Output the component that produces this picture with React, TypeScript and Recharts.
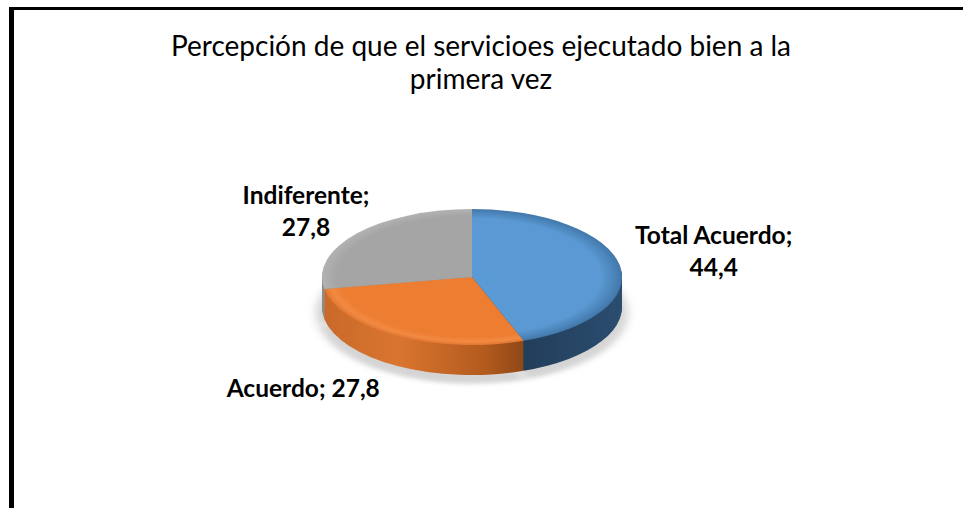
import React from "react";
import { PieChart, Pie, Cell } from "recharts";

const categories = ["Total Acuerdo", "Acuerdo", "Indiferente"];
const values = [44.4, 27.8, 27.8];
const title = ["Percepción de que el servicioes ejecutado bien a la", "primera vez"];

const data = categories.map((name, i) => ({ name, value: values[i] }));

const topFills = ["url(#topBlue)", "url(#topOrange)", "url(#topGray)"];
const sideFills = ["url(#sideBlue)", "url(#sideOrange)", "#8c8c8c"];

// pie geometry (pixels on the page)
const CX = 472;
const CY = 277;
const RX = 150;
const RY = 68;
const DEPTH = 30;
const S = RY / RX;

// label placement relative to the rim point at each slice's mid angle
const labelStyle: Record<string, { dx: number; dy: number; wrap: boolean }> = {
  "Total Acuerdo": { dx: 94, dy: -15, wrap: true },
  Acuerdo: { dx: -94, dy: 52, wrap: false },
  Indiferente: { dx: -51, dy: -23, wrap: true },
};

const fmt = (v: number) => v.toFixed(1).replace(".", ",");

const sideOffsets: number[] = [];
for (let d = DEPTH; d >= 1; d -= 1) sideOffsets.push(d);

const font = "Lato, 'Open Sans', sans-serif";

const renderLabel = (props: any) => {
  const { midAngle, name, value } = props;
  const rad = (Math.PI / 180) * midAngle;
  const ex = CX + RX * Math.cos(rad);
  const ey = CY - RY * Math.sin(rad);
  const st = labelStyle[name];
  const x = ex + st.dx;
  const y = ey + st.dy;
  const common = {
    x,
    textAnchor: "middle" as const,
    fontFamily: font,
    fontWeight: 700,
    fontSize: 24.5,
    fill: "#000",
  };
  if (st.wrap) {
    return (
      <g key={name}>
        <text {...common} y={y - 16} dominantBaseline="central">
          {name};
        </text>
        <text {...common} y={y + 16} dominantBaseline="central">
          {fmt(value)}
        </text>
      </g>
    );
  }
  return (
    <text key={name} {...common} y={y} dominantBaseline="central">
      {name}; {fmt(value)}
    </text>
  );
};

export default function App() {
  const scaledH = 508 / S;
  return (
    <div
      style={{
        position: "absolute",
        left: 0,
        top: 0,
        width: 963,
        height: 508,
        background: "#fff",
        overflow: "hidden",
      }}
    >
      <svg width={0} height={0} style={{ position: "absolute" }}>
        <defs>
          <linearGradient id="sideOrange" gradientUnits="userSpaceOnUse" x1={322} y1={0} x2={540} y2={0}>
            <stop offset="0%" stopColor="#c9692a" />
            <stop offset="35%" stopColor="#d9752f" />
            <stop offset="75%" stopColor="#b35a1e" />
            <stop offset="100%" stopColor="#7f4014" />
          </linearGradient>
          <linearGradient id="sideBlue" gradientUnits="userSpaceOnUse" x1={530} y1={0} x2={623} y2={0}>
            <stop offset="0%" stopColor="#233f5c" />
            <stop offset="100%" stopColor="#2b4d70" />
          </linearGradient>
          <radialGradient id="topBlue" gradientUnits="userSpaceOnUse" cx={CX} cy={CY / S} r={RX}>
            <stop offset="0%" stopColor="#5b9bd5" />
            <stop offset="86%" stopColor="#5a99d3" />
            <stop offset="100%" stopColor="#4278aa" />
          </radialGradient>
          <radialGradient id="topOrange" gradientUnits="userSpaceOnUse" cx={CX} cy={CY / S} r={RX}>
            <stop offset="0%" stopColor="#ed7d31" />
            <stop offset="88%" stopColor="#ed7d31" />
            <stop offset="95%" stopColor="#f28a42" />
            <stop offset="100%" stopColor="#e27632" />
          </radialGradient>
          <radialGradient id="topGray" gradientUnits="userSpaceOnUse" cx={CX} cy={CY / S} r={RX}>
            <stop offset="0%" stopColor="#a5a5a5" />
            <stop offset="90%" stopColor="#a5a5a5" />
            <stop offset="100%" stopColor="#b2b2b2" />
          </radialGradient>
          <filter id="blur" x="-20%" y="-20%" width="140%" height="140%">
            <feGaussianBlur stdDeviation="5" />
          </filter>
        </defs>
      </svg>

      {/* frame and title */}
      <svg width={963} height={508} style={{ position: "absolute", left: 0, top: 0 }}>
        <rect x={9} y={7} width={5} height={501} fill="#000" />
        <rect x={9} y={7} width={954} height={3} fill="#000" />
        <text x={481} y={56} textAnchor="middle" fontFamily={font} fontSize={28} fill="#000">
          {title[0]}
        </text>
        <text x={481} y={89} textAnchor="middle" fontFamily={font} fontSize={28} fill="#000">
          {title[1]}
        </text>
      </svg>

      {/* flattened 3D pie */}
      <div
        style={{
          position: "absolute",
          left: 0,
          top: 0,
          width: 963,
          height: scaledH,
          transform: `scaleY(${S})`,
          transformOrigin: "0 0",
        }}
      >
        <PieChart width={963} height={scaledH} margin={{ top: 0, right: 0, bottom: 0, left: 0 }}>
          <Pie
            data={data}
            dataKey="value"
            cx={CX}
            cy={(CY + DEPTH + 6) / S}
            outerRadius={RX + 6}
            startAngle={90}
            endAngle={-270}
            stroke="none"
            fill="#d4d4d4"
            style={{ filter: "url(#blur)" }}
            isAnimationActive={false}
          />
          {sideOffsets.map((d) => (
            <Pie
              key={d}
              data={data}
              dataKey="value"
              cx={CX}
              cy={(CY + d) / S}
              outerRadius={RX}
              startAngle={90}
              endAngle={-270}
              stroke="none"
              isAnimationActive={false}
            >
              {data.map((e, i) => (
                <Cell key={e.name} fill={sideFills[i]} />
              ))}
            </Pie>
          ))}
          <Pie
            data={data}
            dataKey="value"
            cx={CX}
            cy={CY / S}
            outerRadius={RX}
            startAngle={90}
            endAngle={-270}
            stroke="none"
            isAnimationActive={false}
          >
            {data.map((e, i) => (
              <Cell key={e.name} fill={topFills[i]} />
            ))}
          </Pie>
        </PieChart>
      </div>

      {/* labels, unscaled */}
      <div style={{ position: "absolute", left: 0, top: 0 }}>
        <PieChart width={963} height={508} margin={{ top: 0, right: 0, bottom: 0, left: 0 }}>
          <Pie
            data={data}
            dataKey="value"
            cx={CX}
            cy={CY}
            outerRadius={RX}
            startAngle={90}
            endAngle={-270}
            fill="transparent"
            stroke="none"
            label={renderLabel}
            labelLine={false}
            isAnimationActive={false}
          />
        </PieChart>
      </div>
    </div>
  );
}
